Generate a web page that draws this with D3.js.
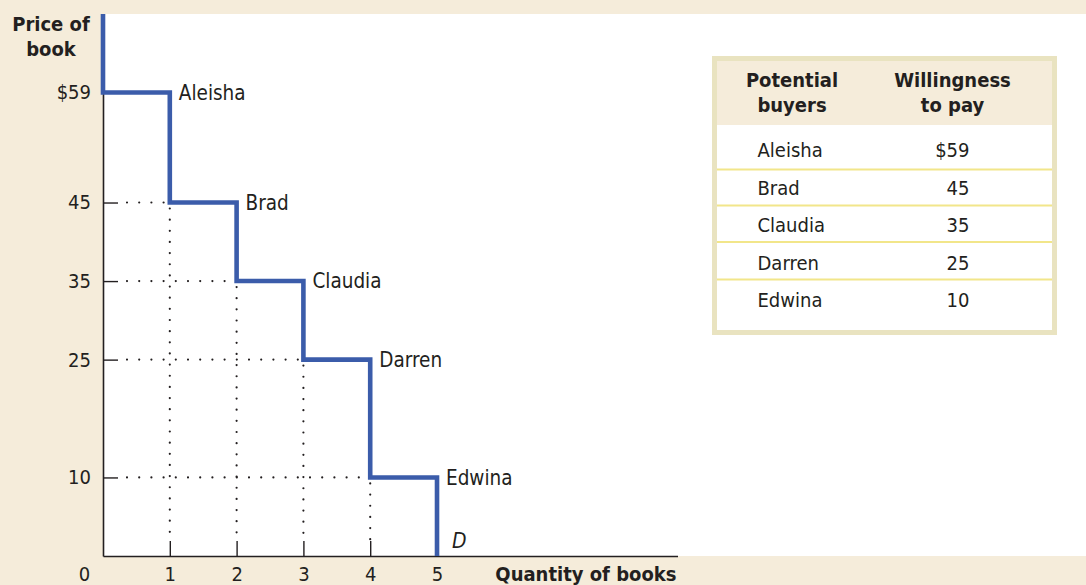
<!DOCTYPE html>
<html>
<head>
<meta charset="utf-8">
<script src="https://cdn.jsdelivr.net/npm/d3@7"></script>
<style>
  html, body { margin: 0; padding: 0; background: #f5ecda; }
  svg { display: block; }
  text { font-family: "DejaVu Sans Condensed", "DejaVu Sans", sans-serif; font-stretch: condensed; fill: #231f20; }
</style>
</head>
<body>
<svg id="chart" width="1086" height="585"></svg>
<script>
// ---- data ----
const buyers = ["Aleisha", "Brad", "Claudia", "Darren", "Edwina"];
const willingness = [59, 45, 35, 25, 10];
const yTickValues = [10, 25, 35, 45, 59];
const xTickValues = [0, 1, 2, 3, 4, 5];
const yTitle = ["Price of", "book"];
const xTitle = "Quantity of books";
const curveLabel = "D";
const tableHeaders = [["Potential", "buyers"], ["Willingness", "to pay"]];

(function () {
// ---- layout ----
const W = 1086, H = 585;
const mLeft = 103, mTop = 14, mBottom = 556, plotRight = 677.5;
const blue = "#3b5caa";
const beige = "#f5ecda";

const svg = d3.select("#chart");

svg.append("rect").attr("x", 0).attr("y", 0).attr("width", W).attr("height", H).attr("fill", beige);
svg.append("rect").attr("x", mLeft).attr("y", mTop).attr("width", W - mLeft).attr("height", mBottom - mTop).attr("fill", "#ffffff");

const x = d3.scaleLinear().domain([0, 8.6]).range([mLeft, plotRight]);
const y = d3.scaleLinear().domain([0, 69]).range([mBottom, mTop]);

// dotted guides
const dotG = svg.append("g");
willingness.slice(1).forEach((p, i) => {
  const q = i + 1;
  dotG.append("line")
    .attr("x1", mLeft + 24).attr("x2", x(q) - 2)
    .attr("y1", y(p)).attr("y2", y(p))
    .attr("stroke", "#231f20").attr("stroke-width", 2.2)
    .attr("stroke-linecap", "round").attr("stroke-dasharray", "0 12.2");
  dotG.append("line")
    .attr("x1", x(q)).attr("x2", x(q))
    .attr("y1", y(p) + 6).attr("y2", mBottom - 14)
    .attr("stroke", "#231f20").attr("stroke-width", 2.2)
    .attr("stroke-linecap", "round").attr("stroke-dasharray", "0 11.15");
});

// axes
const yAxis = d3.axisLeft(y).tickValues(yTickValues).tickSize(-15).tickSizeOuter(0).tickPadding(12)
  .tickFormat(d => d === 59 ? "$59" : d);
const yG = svg.append("g").attr("transform", `translate(${mLeft},0)`).call(yAxis);
const xAxis = d3.axisBottom(x).tickValues(xTickValues).tickSize(-15).tickSizeOuter(0).tickPadding(11);
const xG = svg.append("g").attr("transform", `translate(0,${mBottom})`).call(xAxis);

[yG, xG].forEach(g => {
  g.attr("font-size", null).attr("font-family", null);
  g.select(".domain").attr("stroke", "#231f20").attr("stroke-width", 1.6);
  g.selectAll(".tick line").attr("stroke", "#231f20").attr("stroke-width", 1.4);
  g.selectAll(".tick text").style("font-size", "20px").attr("fill", "#231f20");
});
xG.selectAll(".tick").filter(d => d === 0).select("line").remove();
xG.selectAll(".tick").filter(d => d === 0).select("text").attr("x", -19);

// demand step line
const pts = [[0, 69]];
willingness.forEach((p, i) => { pts.push([i, p]); pts.push([i + 1, p]); });
pts.push([willingness.length, 0]);
const line = d3.line().x(d => x(d[0])).y(d => y(d[1]));
svg.append("path").datum(pts).attr("d", line)
  .attr("fill", "none").attr("stroke", blue).attr("stroke-width", 4.6)
  .attr("stroke-linejoin", "miter").attr("stroke-linecap", "butt");

// buyer labels
svg.append("g").selectAll("text").data(buyers).join("text")
  .attr("x", (d, i) => x(i + 1) + 9)
  .attr("y", (d, i) => y(willingness[i]))
  .attr("dy", "0.36em")
  .style("font-size", "20.5px")
  .text(d => d);

svg.append("text").attr("x", x(5) + 15).attr("y", 548)
  .style("font-size", "21px").style("font-style", "italic").text(curveLabel);

// axis titles
svg.append("text").attr("text-anchor", "middle").style("font-size", "20px").style("font-weight", "bold")
  .selectAll("tspan").data(yTitle).join("tspan")
  .attr("x", 51).attr("y", (d, i) => 31 + i * 24.5).text(d => d);

svg.append("text").attr("x", plotRight - 1).attr("y", 581).attr("text-anchor", "end")
  .style("font-size", "20px").style("font-weight", "bold").text(xTitle);

// ---- table ----
const tb = { x: 712, y: 56, w: 345, h: 279, border: 5, headerBottom: 125 };
const tg = svg.append("g");
tg.append("rect").attr("x", tb.x).attr("y", tb.y).attr("width", tb.w).attr("height", tb.h).attr("fill", "#e9e3c0");
tg.append("rect").attr("x", tb.x + tb.border).attr("y", tb.y + tb.border)
  .attr("width", tb.w - 2 * tb.border).attr("height", tb.headerBottom - tb.y - tb.border).attr("fill", beige);
tg.append("rect").attr("x", tb.x + tb.border).attr("y", tb.headerBottom)
  .attr("width", tb.w - 2 * tb.border).attr("height", tb.y + tb.h - tb.border - tb.headerBottom).attr("fill", "#ffffff");

const colCenters = [792, 952.5];
tableHeaders.forEach((lines, c) => {
  tg.append("text").attr("text-anchor", "middle").style("font-size", "20px").style("font-weight", "bold")
    .selectAll("tspan").data(lines).join("tspan")
    .attr("x", colCenters[c]).attr("y", (d, i) => 87 + i * 25).text(d => d);
});

const rowBaselines = [157, 195, 232, 270, 306.5];
const sepYs = [169.5, 205.5, 242, 279.5];
tg.selectAll("line.sep").data(sepYs).join("line").attr("class", "sep")
  .attr("x1", tb.x + tb.border).attr("x2", tb.x + tb.w - tb.border)
  .attr("y1", d => d).attr("y2", d => d)
  .attr("stroke", "#f2e68a").attr("stroke-width", 2);

tg.selectAll("text.name").data(buyers).join("text").attr("class", "name")
  .attr("x", 757.5).attr("y", (d, i) => rowBaselines[i])
  .style("font-size", "20px").text(d => d);
tg.selectAll("text.val").data(willingness).join("text").attr("class", "val")
  .attr("x", 969.5).attr("y", (d, i) => rowBaselines[i]).attr("text-anchor", "end")
  .style("font-size", "20px").text((d, i) => i === 0 ? "$" + d : d);
})();
</script>
</body>
</html>
